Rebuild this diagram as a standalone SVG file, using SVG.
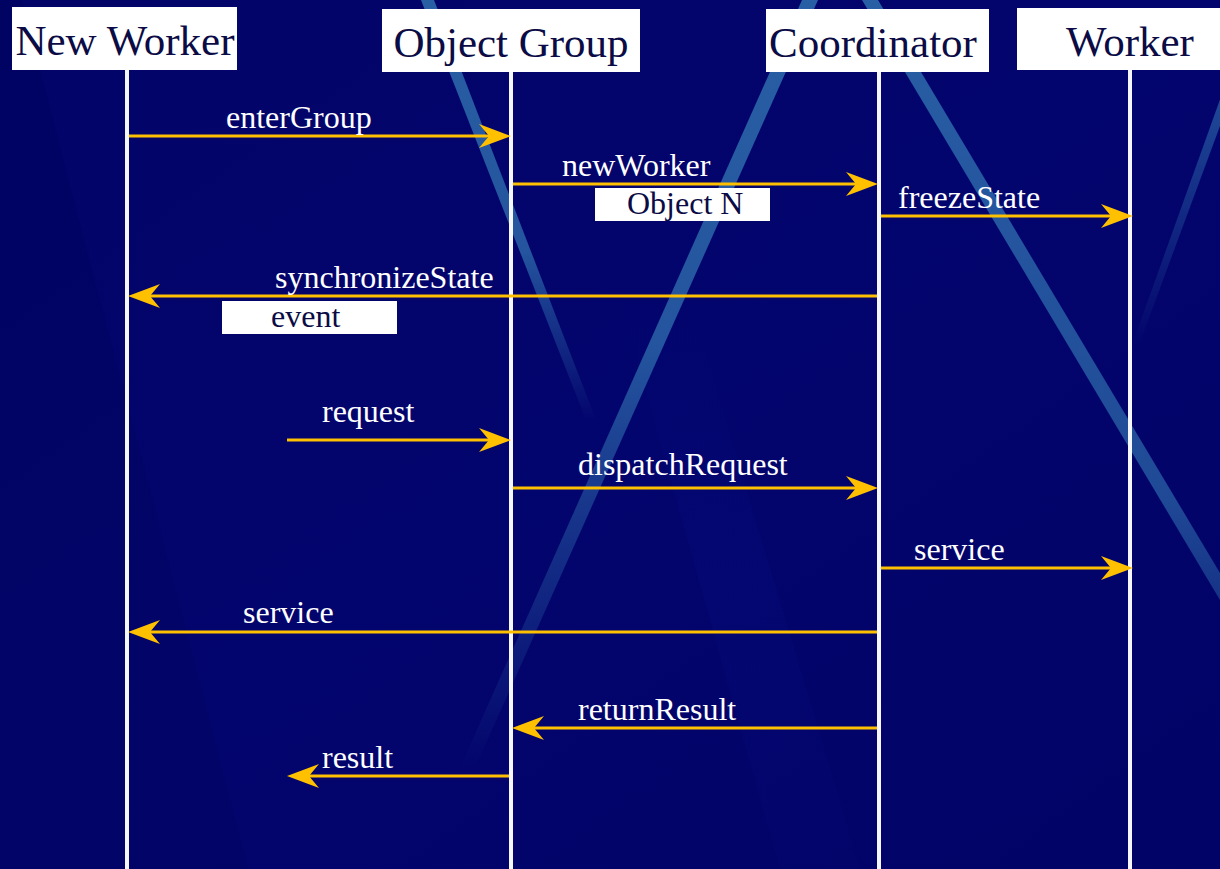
<svg xmlns="http://www.w3.org/2000/svg" width="1220" height="869" viewBox="0 0 1220 869">
  <defs>
    <linearGradient id="bg" x1="0" y1="0" x2="1" y2="1">
      <stop offset="0" stop-color="#020468"/>
      <stop offset="0.5" stop-color="#03056E"/>
      <stop offset="1" stop-color="#020366"/>
    </linearGradient>
    <linearGradient id="fadeDown" x1="0" y1="0" x2="0" y2="1">
      <stop offset="0" stop-color="#2F6FAE" stop-opacity="0.85"/>
      <stop offset="0.6" stop-color="#2F6FAE" stop-opacity="0.75"/>
      <stop offset="1" stop-color="#2F6FAE" stop-opacity="0"/>
    </linearGradient>
    <linearGradient id="fadeLong" x1="0" y1="0" x2="0" y2="1">
      <stop offset="0" stop-color="#2F6FAE" stop-opacity="0.85"/>
      <stop offset="0.45" stop-color="#2F6FAE" stop-opacity="0.75"/>
      <stop offset="1" stop-color="#2F6FAE" stop-opacity="0"/>
    </linearGradient>
    <linearGradient id="fadeRight" x1="0" y1="0" x2="0" y2="1">
      <stop offset="0" stop-color="#2F6FAE" stop-opacity="0.85"/>
      <stop offset="0.8" stop-color="#2F6FAE" stop-opacity="0.65"/>
      <stop offset="1" stop-color="#2F6FAE" stop-opacity="0.4"/>
    </linearGradient>
    <linearGradient id="fadeUp" x1="0" y1="0" x2="0" y2="1">
      <stop offset="0" stop-color="#2F6FAE" stop-opacity="0.7"/>
      <stop offset="1" stop-color="#2F6FAE" stop-opacity="0"/>
    </linearGradient>
    <linearGradient id="glow" x1="0" y1="0" x2="0" y2="1">
      <stop offset="0" stop-color="#0A1590" stop-opacity="0"/>
      <stop offset="0.5" stop-color="#0A1590" stop-opacity="0.14"/>
      <stop offset="1" stop-color="#0A1590" stop-opacity="0.05"/>
    </linearGradient>
    <marker id="arrow" markerUnits="userSpaceOnUse" markerWidth="36" markerHeight="30" viewBox="-34 -15 36 30" refX="-20" refY="0" orient="auto">
      <path d="M0,0 L-32,-12 L-22,0 L-32,12 Z" fill="#FFC000"/>
    </marker>
    <style>
      .box { fill: #FFFFFF; }
      .title { font-family: "Liberation Serif", "Times New Roman", serif; font-size: 43px; fill: #0B0B45; text-anchor: middle; }
      .life { stroke: #F6F6FF; stroke-width: 4; }
      .msg { stroke: #FFC000; stroke-width: 3; fill: none; marker-end: url(#arrow); }
      .lbl { font-family: "Liberation Serif", "Times New Roman", serif; font-size: 32px; fill: #FFFFFF; }
      .tag { font-family: "Liberation Serif", "Times New Roman", serif; font-size: 32px; fill: #0B0B45; }
    </style>
  </defs>

  <!-- backdrop with light streaks -->
  <g id="backdrop">
    <rect x="0" y="0" width="1220" height="869" fill="url(#bg)"/>
    <polygon points="0,0 22,0 248,869 0,869" fill="#000050" opacity="0.2"/>
    <polygon points="620,300 690,300 860,869 780,869" fill="url(#glow)"/>
    <polygon points="421,0 434,0 596,420 586,420" fill="url(#fadeDown)"/>
    <polygon points="802,0 818,0 474,770 459,770" fill="url(#fadeLong)"/>
    <polygon points="862,0 878,0 1248,620 1232,620" fill="url(#fadeRight)"/>
    <polygon points="1227,80 1237,80 1139,345 1132,345" fill="url(#fadeUp)"/>
  </g>

  <g id="new-worker">
    <line class="life" x1="127" y1="70" x2="127" y2="869"/>
    <rect class="box" x="12" y="7" width="225" height="63"/>
    <text class="title" x="125" y="55">New Worker</text>
  </g>

  <g id="object-group">
    <line class="life" x1="511" y1="72" x2="511" y2="869"/>
    <rect class="box" x="382" y="9" width="258" height="63"/>
    <text class="title" x="511" y="57">Object Group</text>
  </g>

  <g id="coordinator">
    <line class="life" x1="879" y1="72" x2="879" y2="869"/>
    <rect class="box" x="766" y="9" width="223" height="63"/>
    <text class="title" x="873" y="57">Coordinator</text>
  </g>

  <g id="worker">
    <line class="life" x1="1130" y1="70" x2="1130" y2="869"/>
    <rect class="box" x="1017" y="8" width="205" height="62"/>
    <text class="title" x="1130" y="56">Worker</text>
  </g>

  <g id="connectors">
    <line class="msg" x1="129" y1="136" x2="491" y2="136"/>
    <line class="msg" x1="513" y1="184" x2="858" y2="184"/>
    <line class="msg" x1="881" y1="216" x2="1113" y2="216"/>
    <line class="msg" x1="877" y1="296" x2="148" y2="296"/>
    <line class="msg" x1="287" y1="440" x2="491" y2="440"/>
    <line class="msg" x1="513" y1="488" x2="858" y2="488"/>
    <line class="msg" x1="881" y1="568" x2="1113" y2="568"/>
    <line class="msg" x1="877" y1="632" x2="148" y2="632"/>
    <line class="msg" x1="877" y1="728" x2="532" y2="728"/>
    <line class="msg" x1="509" y1="776" x2="307" y2="776"/>
  </g>

  <g id="labels">
    <text class="lbl" x="226" y="128">enterGroup</text>
    <text class="lbl" x="562" y="176">newWorker</text>
    <text class="lbl" x="898" y="208">freezeState</text>
    <text class="lbl" x="275" y="288">synchronizeState</text>
    <text class="lbl" x="322" y="422">request</text>
    <text class="lbl" x="578" y="475">dispatchRequest</text>
    <text class="lbl" x="914" y="560">service</text>
    <text class="lbl" x="243" y="623">service</text>
    <text class="lbl" x="578" y="720">returnResult</text>
    <text class="lbl" x="322" y="768">result</text>
  </g>

  <g id="object-n">
    <rect class="box" x="595" y="188" width="175" height="33"/>
    <text class="tag" x="627" y="214">Object N</text>
  </g>

  <g id="event">
    <rect class="box" x="222" y="301" width="175" height="33"/>
    <text class="tag" x="271" y="327">event</text>
  </g>
</svg>
